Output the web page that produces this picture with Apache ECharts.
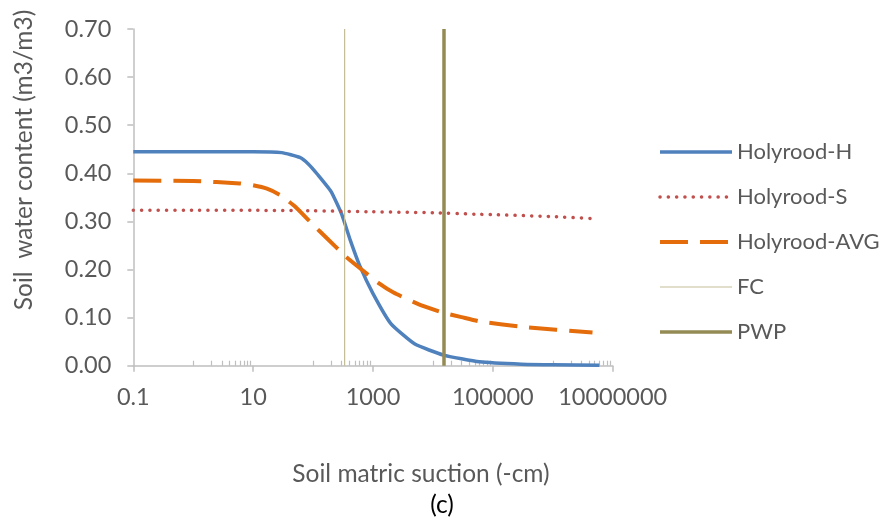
<!DOCTYPE html>
<html>
<head>
<meta charset="utf-8">
<script src="https://cdn.jsdelivr.net/npm/echarts@6/dist/echarts.min.js"></script>
<style>
  html, body { margin: 0; padding: 0; background: #fff; }
  #chart { width: 879px; height: 526px; }
</style>
</head>
<body>
<div id="chart"></div>
<script>
// ---- data ----
const hX   = [0.1, 1, 10, 30, 60, 84, 120, 200, 300, 420, 600, 1000, 2000, 5000, 15000, 60000, 300000, 1000000, 6000000];
const hY   = [0.445, 0.445, 0.445, 0.443, 0.433, 0.419, 0.397, 0.362, 0.315, 0.260, 0.208, 0.150, 0.087, 0.045, 0.022, 0.008, 0.003, 0.002, 0.001];
const sX   = [0.1, 1, 10, 100, 1000, 10000, 50000, 100000, 1000000, 4600000];
const sY   = [0.323, 0.323, 0.323, 0.322, 0.320, 0.318, 0.315, 0.314, 0.310, 0.306];
const avgX = [0.1, 1, 6, 10, 17, 28, 50, 100, 170, 350, 600, 1300, 2200, 5700, 15000, 30000, 60000, 300000, 4600000];
const avgY = [0.385, 0.384, 0.379, 0.375, 0.368, 0.355, 0.331, 0.293, 0.265, 0.227, 0.203, 0.170, 0.152, 0.128, 0.110, 0.101, 0.092, 0.081, 0.069];
const fcX  = [336, 336];
const fcY  = [0, 0.70];
const pwpX = [15300, 15300];
const pwpY = [0, 0.70];
const xMajorTicks = [0.1, 10, 1000, 100000, 10000000];
const xMinorTicks = [1,2,3,4,5,6,7,8,9, 100,200,300,400,500,600,700,800,900,
                     10000,20000,30000,40000,50000,60000,70000,80000,90000,
                     1000000,2000000,3000000,4000000,5000000,6000000,7000000,8000000,9000000];
const seriesNames = ['Holyrood-H', 'Holyrood-S', 'Holyrood-AVG', 'FC', 'PWP'];

function pairs(xs, ys) { return xs.map((x, i) => [x, ys[i]]); }

const FONT = 'Lato';
const FS = 23.5;
const TFS = 24.5;
const TXT = '#595959';
const AX = '#bfbfbf';

const styles = {
  'Holyrood-H':   { color: '#4F81BD', width: 3.5, type: 'solid' },
  'Holyrood-S':   { color: '#C0504D', width: 3.5, type: [0.1, 8.2], cap: 'round' },
  'Holyrood-AVG': { color: '#E46C0A', width: 4, type: [28, 12] },
  'FC':           { color: '#C4BD97', width: 1.2, type: 'solid' },
  'PWP':          { color: '#948A54', width: 3.5, type: 'solid' }
};
const seriesData = {
  'Holyrood-H': pairs(hX, hY),
  'Holyrood-S': pairs(sX, sY),
  'Holyrood-AVG': pairs(avgX, avgY),
  'FC': pairs(fcX, fcY),
  'PWP': pairs(pwpX, pwpY)
};

const chart = echarts.init(document.getElementById('chart'));
chart.setOption({
  animation: false,
  backgroundColor: '#fff',
  grid: { left: 133.3, right: 266.3, top: 29, bottom: 160.3, containLabel: false },
  xAxis: [{
    type: 'log', logBase: 10, min: 0.1, max: 10000000,
    axisLine: { show: true, lineStyle: { color: AX, width: 1.5 } },
    axisTick: { show: true, customValues: xMajorTicks, length: 6, lineStyle: { color: AX, width: 1.5 } },
    axisLabel: { customValues: xMajorTicks, margin: 20, color: TXT, fontFamily: FONT, fontSize: FS,
                 formatter: v => String(v) },
    splitLine: { show: false }, minorTick: { show: false }
  }, {
    type: 'log', logBase: 10, min: 0.1, max: 10000000, position: 'bottom', offset: 0,
    axisLine: { show: false },
    axisTick: { show: true, inside: true, customValues: xMinorTicks, length: 5, lineStyle: { color: AX, width: 1.2 } },
    axisLabel: { show: false },
    splitLine: { show: false }
  }],
  yAxis: {
    type: 'value', min: 0, max: 0.7, interval: 0.1,
    axisLine: { show: true, lineStyle: { color: AX, width: 1.5 } },
    axisTick: { show: true, length: 6, lineStyle: { color: AX, width: 1.5 } },
    axisLabel: { margin: 22, color: TXT, fontFamily: FONT, fontSize: FS, formatter: v => v.toFixed(2) },
    splitLine: { show: false }
  },
  legend: {
    orient: 'vertical', left: 653, top: 135,
    itemWidth: 72, itemHeight: 14, itemGap: 21,
    data: seriesNames.map(n => ({ name: n, lineStyle: styles[n], itemStyle: { opacity: 0 } })),
    itemStyle: { opacity: 0 },
    textStyle: { color: TXT, fontFamily: FONT, fontSize: 22, lineHeight: 24 }
  },
  graphic: [
    { type: 'text', x: 24, y: 160, rotation: Math.PI / 2,
      style: { text: 'Soil  water content (m3/m3)', fill: TXT, font: TFS + 'px ' + FONT, textAlign: 'center', textVerticalAlign: 'middle' } },
    { type: 'text', x: 421, y: 474,
      style: { text: 'Soil matric suction (-cm)', fill: TXT, font: TFS + 'px ' + FONT, textAlign: 'center', textVerticalAlign: 'middle' } },
    { type: 'text', x: 442, y: 505,
      style: { text: '(c)', fill: '#000', font: TFS + 'px ' + FONT, textAlign: 'center', textVerticalAlign: 'middle' } }
  ],
  series: seriesNames.map(n => ({
    name: n, type: 'line', data: seriesData[n], symbol: 'none', smooth: 0.15,
    lineStyle: styles[n], itemStyle: { color: styles[n].color }
  }))
});
</script>
</body>
</html>
